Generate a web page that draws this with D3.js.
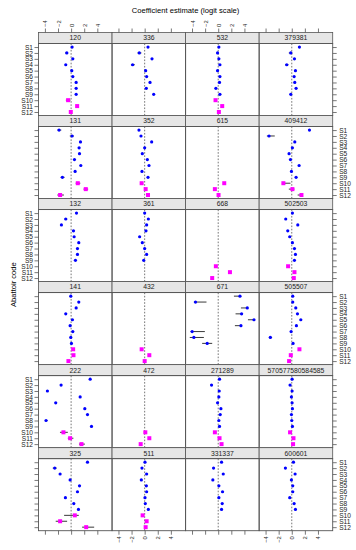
<!DOCTYPE html>
<html>
<head>
<meta charset="utf-8">
<script src="https://cdn.jsdelivr.net/npm/d3@7"></script>
<style>
  body { margin: 0; background: #fff; }
  text { font-family: "Liberation Sans", Arial, sans-serif; }
</style>
</head>
<body>
<svg id="chart"></svg>
<script>
// Panel labels, in reading order (4 per row)
const abattoirs = [
    '120', '336', '532', '379381',
    '131', '352', '615', '409412',
    '132', '361', '668', '502503',
    '141', '432', '671', '505507',
    '222', '472', '271289', '570577580584585',
    '325', '511', '331337', '600601'
];
const sites = ['S1', 'S2', 'S3', 'S4', 'S5', 'S6', 'S7', 'S8', 'S9', 'S10', 'S11', 'S12'];
const secondGroup = ['S10', 'S11', 'S12'];
const xTicks = [-4, -2, 0, 2, 4];

// Point estimates per panel, S1..S12 (null = not estimated)
const estimates = [
    [0.15, -0.66, 0.26, -0.82, 0.1, 0.26, 0.77, 0.77, 0.77, -0.46, 0.92, -0.05],
    [0.51, -0.82, 1.12, -1.84, 0.15, 0.3, 0.82, 0.25, 1.38, null, null, null],
    [0.1, -0.1, 0.1, 0.26, -0.1, 0.26, 0.2, -0.36, 0.26, -0.41, 0.61, 0.1],
    [1.17, -0.15, 0.41, -0.77, 0.56, 0.36, 0.46, 0.66, -0.15, null, null, null],

    [-1.84, 0.15, 1.43, 1.22, 1.28, 0.51, 1.48, 0.61, -1.33, 1.02, 2.24, -1.68],
    [-0.87, -0.56, 1.07, 0, -0.36, 0.41, 0.66, -0.41, 0.51, -0.46, 0.15, 0.51],
    [null, null, null, null, null, null, null, null, null, 0.92, -0.51, 0.05],
    [2.7, -3.47, 0.46, 0.1, -0.41, -0.2, 1.12, -0.05, 0.66, -1.28, 0.1, 1.48],

    [0.82, -0.82, -1.48, 0.36, 0.46, 1.17, 0.97, 0.97, 0.66, null, null, null],
    [0, 0.56, 0.3, 0.2, -0.77, -0.36, 0, 0.3, -0.15, null, null, null],
    [null, null, null, null, null, null, null, null, null, -0.36, 1.79, -0.92],
    [0.1, -0.92, 0.92, -0.61, -0.31, 0.1, 0.41, 0.56, 0.41, -0.56, 0.41, 0.31],

    [-0.05, 1.17, 0.77, -0.82, 0.2, -0.15, 0.26, -0.05, 0.05, 0.31, 0.36, -0.41],
    [null, null, null, null, null, null, null, null, null, -0.46, 0.71, 0],
    [3.32, -3.47, 4.44, 3.57, 5.46, 3.47, -3.98, -3.72, -1.68, null, null, null],
    [0.15, 0.15, 0.61, 0.87, 1.38, 0.71, -0.1, -3.27, 0.2, 1.17, -0.15, -0.41],

    [2.91, -1.53, -3.62, 1.38, -2.35, 2.09, 2.5, -3.83, 3.11, -1.17, -0.15, 1.58],
    [null, null, null, null, null, null, null, null, null, 0.1, 0.71, -0.61],
    [0.2, -1.02, 0.15, 0.1, -0.1, 0.41, 0.31, 0.1, 0.2, -0.51, 0.2, 0.51],
    [0.05, -0.26, 0.05, -0.05, 0.05, 0.1, -0.05, 0, 0.1, -0.26, 0.26, 0.2],

    [2.5, -2.5, -1.68, -0.15, 1.28, 0.97, -0.87, 0.41, 1.12, 0.56, -1.68, 2.3],
    [0.05, -0.41, 0.3, -0.51, 0.26, 0.3, 0.05, 0.1, 0.56, -0.31, 0.3, 0.15],
    [0.51, -0.71, 0.77, -0.82, 0.1, 0.66, 0.1, 0.61, 0.51, null, null, null],
    [0.26, -0.97, 0.51, -0.05, 0.15, 0.15, -0.31, 0.36, 0.56, null, null, null]
];

// Visible confidence intervals: [abattoir, site, lower, upper]
const intervals = [
    ['120', 'S2', -0.9, -0.45], ['120', 'S10', -0.8, -0.1],
    ['336', 'S2', -1.1, -0.5], ['336', 'S4', -2.1, -1.5],
    ['379381', 'S2', -0.45, 0.1], ['379381', 'S4', -1.0, -0.5],
    ['131', 'S1', -2.1, -1.5], ['131', 'S2', -0.2, 0.4], ['131', 'S9', -1.6, -1.0],
    ['131', 'S10', 0.7, 1.4], ['131', 'S11', 1.9, 2.6], ['131', 'S12', -2.1, -1.1],
    ['409412', 'S2', -3.8, -2.6], ['409412', 'S10', -1.5, -0.2],
    ['409412', 'S11', -0.45, 0.4], ['409412', 'S12', 0.9, 1.6],
    ['132', 'S2', -1.0, -0.6],
    ['671', 'S1', 2.4, 3.5], ['671', 'S2', -3.72, -1.79], ['671', 'S3', 3.47, 4.54],
    ['671', 'S4', 2.65, 3.67], ['671', 'S5', 4.54, 5.56], ['671', 'S6', 2.55, 3.57],
    ['671', 'S7', -4.23, -2.04], ['671', 'S8', -4.34, -2.19], ['671', 'S9', -2.45, -0.92],
    ['505507', 'S8', -3.5, -3.0],
    ['222', 'S8', -4.0, -3.6], ['222', 'S10', -1.7, -0.5], ['222', 'S11', -0.5, 0.35],
    ['222', 'S12', 1.2, 2.1],
    ['325', 'S2', -2.8, -2.2], ['325', 'S10', -1.07, 1.17], ['325', 'S11', -2.35, -0.61],
    ['325', 'S12', 1.68, 3.52]
];

const width = 356, height = 550;
const nCols = 4, nRows = 6;
const gridLeft = 38.5, gridRight = 332.7, gridTop = 32.5, gridBottom = 530.7;
const stripH = 11;
const tickLen = 4;
const frameColor = '#555';

const svg = d3.select('#chart').attr('width', width).attr('height', height);

const colScale = d3.scaleBand().domain(d3.range(nCols)).range([gridLeft, gridRight]);
const rowScale = d3.scaleBand().domain(d3.range(nRows)).range([gridTop, gridBottom]);
const colW = colScale.bandwidth();
const rowH = rowScale.bandwidth();
const innerH = rowH - stripH;

const x = d3.scaleLinear().domain([-4.98, 6.25]).range([0, colW]);
const y = d3.scalePoint().domain(sites).range([0, innerH]).padding(0.6);

// titles
svg.append('text')
    .attr('x', (gridLeft + gridRight) / 2).attr('y', 12.5)
    .attr('text-anchor', 'middle')
    .style('font-size', '7.6px')
    .text('Coefficient estimate (logit scale)');

svg.append('text')
    .attr('transform', `translate(15.5, ${(gridTop + gridBottom) / 2 + 3}) rotate(-90)`)
    .attr('text-anchor', 'middle')
    .style('font-size', '7.6px')
    .text('Abattoir code');

abattoirs.forEach((code, i) => {
    const col = i % nCols, row = Math.floor(i / nCols);
    const g = svg.append('g')
        .attr('transform', `translate(${colScale(col)}, ${rowScale(row)})`);

    // strip
    g.append('rect')
        .attr('width', colW).attr('height', stripH)
        .attr('fill', '#e6e6e6')
        .attr('stroke', frameColor).attr('stroke-width', 0.8);
    g.append('text')
        .attr('x', colW / 2).attr('y', stripH / 2 + 2.4)
        .attr('text-anchor', 'middle')
        .style('font-size', '6.8px')
        .attr('fill', '#222')
        .text(code);

    const panel = g.append('g').attr('transform', `translate(0, ${stripH})`);

    // zero reference
    panel.append('line')
        .attr('x1', x(0)).attr('x2', x(0))
        .attr('y1', 0).attr('y2', innerH)
        .attr('stroke', '#666').attr('stroke-width', 0.9)
        .attr('stroke-dasharray', '1.6,1.6');

    // confidence intervals
    intervals.filter(d => d[0] === code).forEach(d => {
        panel.append('line')
            .attr('x1', x(d[2])).attr('x2', x(d[3]))
            .attr('y1', y(d[1])).attr('y2', y(d[1]))
            .attr('stroke', '#222').attr('stroke-width', 0.9);
    });

    // points
    const pts = sites.map((s, k) => ({ site: s, value: estimates[i][k] }))
        .filter(d => d.value !== null);

    panel.selectAll('circle.est')
        .data(pts.filter(d => !secondGroup.includes(d.site)))
        .join('circle')
        .attr('class', 'est')
        .attr('cx', d => x(d.value)).attr('cy', d => y(d.site))
        .attr('r', 1.6)
        .attr('fill', '#0000ff');

    panel.selectAll('rect.est')
        .data(pts.filter(d => secondGroup.includes(d.site)))
        .join('rect')
        .attr('class', 'est')
        .attr('x', d => x(d.value) - 2).attr('y', d => y(d.site) - 2)
        .attr('width', 4).attr('height', 4)
        .attr('fill', '#ff00ff');

    // panel frame
    panel.append('rect')
        .attr('width', colW).attr('height', innerH)
        .attr('fill', 'none')
        .attr('stroke', frameColor).attr('stroke-width', 0.9);

    // x axes: ticks on the outer edges, labels alternate top/bottom
    if (row === 0) {
        const ax = g.append('g').call(d3.axisTop(x).tickValues(xTicks).tickSize(tickLen)
            .tickFormat(col % 2 === 0 ? d3.format('d') : () => ''));
        styleAxis(ax);
        ax.selectAll('text')
            .attr('transform', 'rotate(-90)')
            .attr('x', tickLen + 1.5).attr('y', 0).attr('dy', '0.35em')
            .attr('text-anchor', 'start');
    }
    if (row === nRows - 1) {
        const ax = panel.append('g').attr('transform', `translate(0, ${innerH})`)
            .call(d3.axisBottom(x).tickValues(xTicks).tickSize(tickLen)
            .tickFormat(col % 2 === 1 ? d3.format('d') : () => ''));
        styleAxis(ax);
        ax.selectAll('text')
            .attr('transform', 'rotate(-90)')
            .attr('x', -(tickLen + 1.5)).attr('y', 0).attr('dy', '0.35em')
            .attr('text-anchor', 'end');
    }

    // y axes: labels alternate left/right by row
    if (col === 0) {
        const ay = panel.append('g').call(d3.axisLeft(y).tickSize(tickLen)
            .tickFormat(row % 2 === 0 ? d => d : () => ''));
        styleAxis(ay);
        ay.selectAll('text').style('font-size', '6.6px').attr('x', -(tickLen + 1.5));
    }
    if (col === nCols - 1) {
        const ay = panel.append('g').attr('transform', `translate(${colW}, 0)`)
            .call(d3.axisRight(y).tickSize(tickLen)
            .tickFormat(row % 2 === 1 ? d => d : () => ''));
        styleAxis(ay);
        ay.selectAll('text').style('font-size', '6.6px').attr('x', tickLen + 2.5);
    }
});

function styleAxis(sel) {
    sel.select('.domain').remove();
    sel.selectAll('line').attr('stroke', frameColor).attr('stroke-width', 0.8);
    sel.selectAll('text')
        .attr('fill', '#222')
        .style('font-family', '"Liberation Sans", Arial, sans-serif')
        .style('font-size', '5.8px');
}
</script>
</body>
</html>
